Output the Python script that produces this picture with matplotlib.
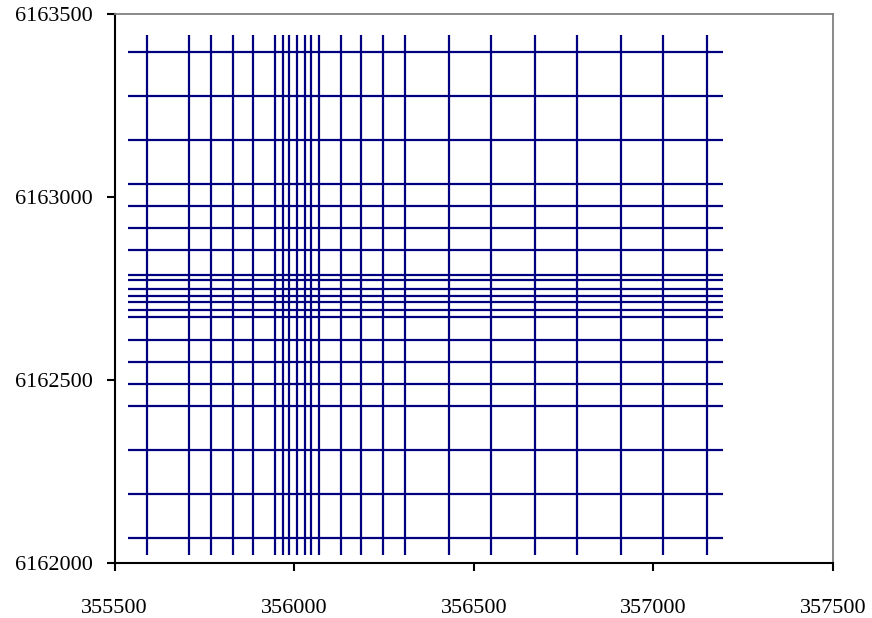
import matplotlib
matplotlib.use("Agg")
import matplotlib.pyplot as plt
import numpy as np

# grid line positions (easting / northing)
x_lines = [355589, 355706, 355768, 355829, 355885, 355945, 355968, 355985,
           356008, 356029, 356047, 356068, 356129, 356185, 356246, 356307,
           356431, 356547, 356670, 356786, 356910, 357027, 357148]
y_lines = [6163395, 6163276, 6163155, 6163036, 6162975, 6162914, 6162854,
           6162788, 6162772, 6162750, 6162729, 6162712, 6162691, 6162673,
           6162610, 6162548, 6162489, 6162430, 6162309, 6162188, 6162067]

# extent of the segments
x_span = (355538, 357195)
y_span = (6162022, 6163442)

x_ticks = [355500, 356000, 356500, 357000, 357500]
y_ticks = [6162000, 6162500, 6163000, 6163500]

plt.rcParams["font.family"] = ["Liberation Serif", "DejaVu Serif"]

fig = plt.figure(figsize=(8.72, 6.18), dpi=100)
ax = fig.add_axes([0.1315, 0.089, 0.8238, 0.8883])

navy = "#000080"
ax.vlines(x_lines, y_span[0], y_span[1], colors=navy, linewidth=1.6)
ax.hlines(y_lines, x_span[0], x_span[1], colors=navy, linewidth=1.6)

ax.set_xlim(x_ticks[0], x_ticks[-1])
ax.set_ylim(y_ticks[0], y_ticks[-1])
ax.set_xticks(x_ticks)
ax.set_yticks(y_ticks)
ax.set_xticklabels([str(v) for v in x_ticks])
ax.set_yticklabels([str(v) for v in y_ticks])

for side in ("left", "bottom"):
    ax.spines[side].set_color("black")
    ax.spines[side].set_linewidth(1.5)
for side in ("top", "right"):
    ax.spines[side].set_color("#808080")
    ax.spines[side].set_linewidth(1.3)

ax.tick_params(axis="both", direction="out", length=6, width=1.5,
               labelsize=16, colors="black")
ax.tick_params(axis="y", pad=10)
ax.tick_params(axis="x", pad=20)

fig.savefig("out.png", dpi=100)
